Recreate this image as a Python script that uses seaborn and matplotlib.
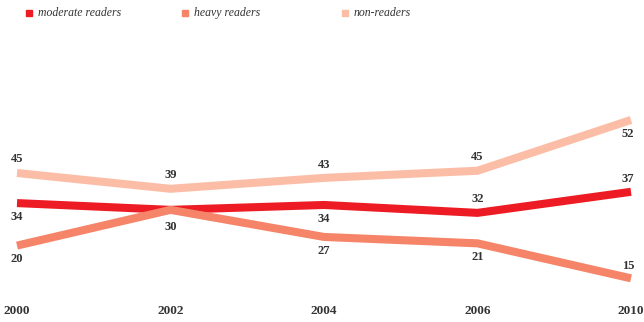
import pandas as pd
import matplotlib.pyplot as plt
import seaborn as sns
from matplotlib.lines import Line2D

years = ['2000', '2002', '2004', '2006', '2010']
series = ['moderate readers', 'heavy readers', 'non-readers']
colors = ['#ED1C24', '#F58468', '#FBBDA6']

# line heights
moderate = [34.1, 32.3, 33.6, 31.5, 37.1]
heavy = [22.8, 32.3, 25.1, 23.4, 14.1]
nonreaders = [42.1, 37.9, 40.8, 42.7, 56.2]

# printed point labels
moderate_lbl = ['34', '', '34', '32', '37']
heavy_lbl = ['20', '30', '27', '21', '15']
nonreaders_lbl = ['45', '39', '43', '45', '52']

sns.set_style('white')
plt.rcParams['font.family'] = ['Liberation Serif', 'DejaVu Serif']

df = pd.DataFrame({
    'year': years * 3,
    'pos': list(range(len(years))) * 3,
    'value': moderate + heavy + nonreaders,
    'group': [s for s in series for _ in years],
})

fig = plt.figure(figsize=(6.44, 3.22), dpi=100)
ax = fig.add_axes([17 / 644, 32 / 322, 614 / 644, 190 / 322])
sns.lineplot(data=df, x='pos', y='value', hue='group', hue_order=series,
             palette=colors, linewidth=5.8, legend=False, ax=ax)
for ln in ax.lines:
    ln.set_clip_on(False)
    ln.set_solid_capstyle('butt')
    ln.set_solid_joinstyle('miter')

ax.set_xlim(0, 4)
ax.set_ylim(11.0, 61.5)
ax.set_xticks(range(len(years)))
ax.set_xticklabels(years, fontsize=9.5, fontweight='bold', color='#333333')
ax.set_yticks([])
ax.tick_params(axis='x', length=0, pad=11)
ax.set_xlabel('')
ax.set_ylabel('')
sns.despine(ax=ax, left=True, bottom=True)

# offsets in points: positive = above the line
offs = {
    'moderate readers': [-10, 0, -10, 10, 9],
    'heavy readers': [-10, -12, -10, -10, 9],
    'non-readers': [10, 10, 9, 10, -10],
}
vals = {'moderate readers': moderate, 'heavy readers': heavy, 'non-readers': nonreaders}
lbls = {'moderate readers': moderate_lbl, 'heavy readers': heavy_lbl, 'non-readers': nonreaders_lbl}
for s in series:
    for i, (v, t) in enumerate(zip(vals[s], lbls[s])):
        if not t:
            continue
        dx = -2 if i == len(years) - 1 else 0
        ax.annotate(t, (i, v), xytext=(dx, offs[s][i]), textcoords='offset points',
                    ha='center', va='center', fontsize=9, fontweight='bold',
                    color='#333333', annotation_clip=False)

# legend row
leg_x = [29, 185, 345]
for x, s, c in zip(leg_x, series, colors):
    fig.add_artist(Line2D([x / 644], [1 - 13 / 322], marker='s', markersize=5,
                          color=c, linestyle='none', transform=fig.transFigure))
    fig.text((x + 9) / 644, 1 - 13 / 322, s, fontsize=8.5, style='italic',
             color='#333333', va='center', ha='left')

plt.savefig('out.png', dpi=100)
